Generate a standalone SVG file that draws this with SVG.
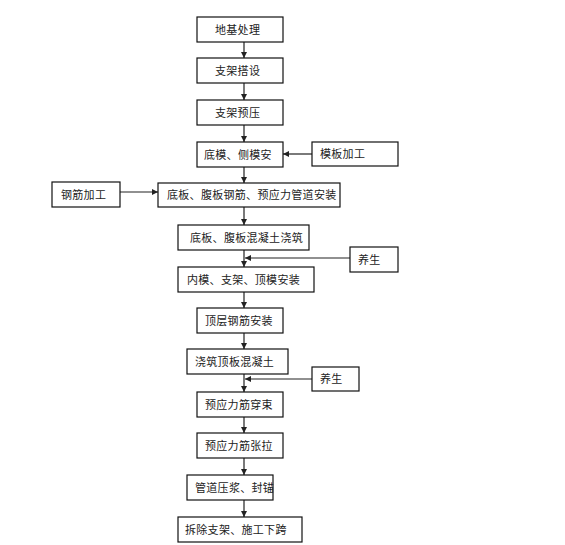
<svg xmlns="http://www.w3.org/2000/svg" width="565" height="545" viewBox="0 0 565 545">
<style>
.b rect{fill:#fff;stroke:#111;stroke-width:1.2}
.b text{font-family:"Noto Sans CJK SC","Noto Sans",sans-serif;font-size:11px;letter-spacing:0.3px;fill:#222}
.c line{stroke:#222;stroke-width:1.2;marker-end:url(#ah)}
</style>
<defs>
<marker id="ah" viewBox="0 0 8 8" refX="8" refY="4" markerWidth="6" markerHeight="6" markerUnits="userSpaceOnUse" orient="auto">
<path d="M0,0 L8,4 L0,8 Z" fill="#222"/>
</marker>
</defs>
<rect width="565" height="545" fill="#fff"/>
<g id="connectors" class="c">
<line x1="244" y1="42" x2="244" y2="58"/>
<line x1="244" y1="83" x2="244" y2="100"/>
<line x1="244" y1="125" x2="244" y2="142"/>
<line x1="312" y1="154" x2="283" y2="154"/>
<line x1="244" y1="167" x2="244" y2="183"/>
<line x1="120" y1="192" x2="158" y2="192"/>
<line x1="244" y1="207" x2="244" y2="225"/>
<line x1="244" y1="250" x2="244" y2="267"/>
<line x1="350" y1="258" x2="245" y2="258"/>
<line x1="244" y1="292" x2="244" y2="308"/>
<line x1="244" y1="333" x2="244" y2="349"/>
<line x1="244" y1="374" x2="244" y2="392"/>
<line x1="312" y1="379" x2="245" y2="379"/>
<line x1="244" y1="417" x2="244" y2="433"/>
<line x1="244" y1="458" x2="244" y2="475"/>
<line x1="244" y1="500" x2="244" y2="517"/>
</g>
<g id="n1" class="b"><rect x="197" y="17" width="86" height="25"/><text x="215" y="33.5">地基处理</text></g>
<g id="n2" class="b"><rect x="197" y="58" width="86" height="25"/><text x="215" y="74.5">支架搭设</text></g>
<g id="n3" class="b"><rect x="197" y="100" width="86" height="25"/><text x="215" y="116.5">支架预压</text></g>
<g id="n4" class="b"><rect x="197" y="142" width="86" height="25"/><text x="204" y="158.5">底模、侧模安</text></g>
<g id="n4a" class="b"><rect x="312" y="142" width="86" height="24"/><text x="320" y="158">模板加工</text></g>
<g id="n5a" class="b"><rect x="52" y="182" width="68" height="25"/><text x="61" y="198.5">钢筋加工</text></g>
<g id="n5" class="b"><rect x="158" y="183" width="182" height="24"/><text x="167" y="199">底板、腹板钢筋、预应力管道安装</text></g>
<g id="n6" class="b"><rect x="178" y="225" width="131" height="25"/><text x="190" y="241.5">底板、腹板混凝土浇筑</text></g>
<g id="n6a" class="b"><rect x="350" y="247" width="48" height="25"/><text x="358" y="263.5">养生</text></g>
<g id="n7" class="b"><rect x="178" y="267" width="136" height="25"/><text x="187" y="283.5">内模、支架、顶模安装</text></g>
<g id="n8" class="b"><rect x="197" y="308" width="86" height="25"/><text x="205" y="324.5">顶层钢筋安装</text></g>
<g id="n9" class="b"><rect x="187" y="349" width="101" height="25"/><text x="195" y="365.5">浇筑顶板混凝土</text></g>
<g id="n9a" class="b"><rect x="312" y="367" width="47" height="24"/><text x="320" y="383">养生</text></g>
<g id="n10" class="b"><rect x="197" y="392" width="86" height="25"/><text x="205" y="408.5">预应力筋穿束</text></g>
<g id="n11" class="b"><rect x="197" y="433" width="86" height="25"/><text x="205" y="449.5">预应力筋张拉</text></g>
<g id="n12" class="b"><rect x="187" y="475" width="86" height="25"/><text x="195" y="491.5">管道压浆、封锚</text></g>
<g id="n13" class="b"><rect x="178" y="517" width="124" height="25"/><text x="185" y="533.5">拆除支架、施工下跨</text></g>
</svg>
